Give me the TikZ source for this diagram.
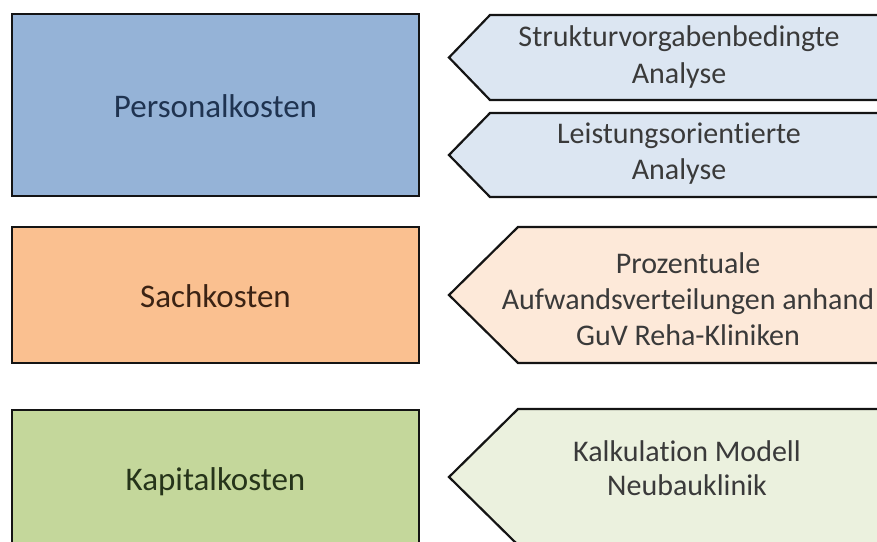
\documentclass[tikz,border=0pt]{standalone}
\usepackage{fontspec}
\setmainfont[Ligatures={NoCommon}]{Carlito}
\definecolor{bluebox}{HTML}{95B3D7}
\definecolor{orangebox}{HTML}{FAC090}
\definecolor{greenbox}{HTML}{C4D79B}
\definecolor{bluearr}{HTML}{DCE6F2}
\definecolor{orangearr}{HTML}{FDE9D9}
\definecolor{greenarr}{HTML}{EBF1DE}
\definecolor{bluetxt}{HTML}{1F3350}
\definecolor{orangetxt}{HTML}{3B2314}
\definecolor{greentxt}{HTML}{26341A}
\definecolor{arrtxt}{HTML}{3A3A3A}
\definecolor{edge}{HTML}{141414}
\tikzset{
  costbox/.style={draw=edge, line width=2.6pt, minimum width=407pt, inner sep=0pt,
    text height=24pt, text depth=0pt,
    font=\fontsize{33}{40}\selectfont},
  arrshape/.style={draw=edge, line width=2.2pt, line join=miter},
  arrlabel/.style={align=center, text=arrtxt, inner sep=0pt,
    font=\fontsize{30}{36}\selectfont}
}
\begin{document}
\begin{tikzpicture}[x=1pt,y=-1pt]
\useasboundingbox (0,0) rectangle (877,541);
\clip (0,0) rectangle (877,541);

% left cost boxes
\node[costbox, fill=bluebox, text=bluetxt, minimum height=182pt] (pk) at (215.5,105) {Personalkosten};
\node[costbox, fill=orangebox, text=orangetxt, minimum height=136pt] (sk) at (215.5,295) {Sachkosten};
\node[costbox, fill=greenbox, text=greentxt, minimum height=136pt] (kk) at (215.5,478) {Kapitalkosten};

% right arrow shapes
\draw[arrshape, fill=bluearr] (449,57.5) -- (490,15) -- (895,15) -- (895,100) -- (490,100) -- cycle;
\draw[arrshape, fill=bluearr] (449,155) -- (490,113) -- (895,113) -- (895,197) -- (490,197) -- cycle;
\draw[arrshape, fill=orangearr] (449,295) -- (518,227) -- (895,227) -- (895,363) -- (518,363) -- cycle;
\draw[arrshape, fill=greenarr] (449,477) -- (518,409) -- (895,409) -- (895,545) -- (518,545) -- cycle;

% labels
\node[arrlabel] (a1) at (679,57) {Strukturvorgabenbedingte\\Analyse};
\node[arrlabel] (a2) at (679,154) {Leistungsorientierte\\Analyse};
\node[arrlabel] (a3) at (688,299) {Prozentuale\\Aufwandsverteilungen anhand\\GuV Reha-Kliniken};
\node[arrlabel, font=\fontsize{30}{34}\selectfont] (a4) at (687,468) {Kalkulation Modell\\Neubauklinik};
\end{tikzpicture}
\end{document}
